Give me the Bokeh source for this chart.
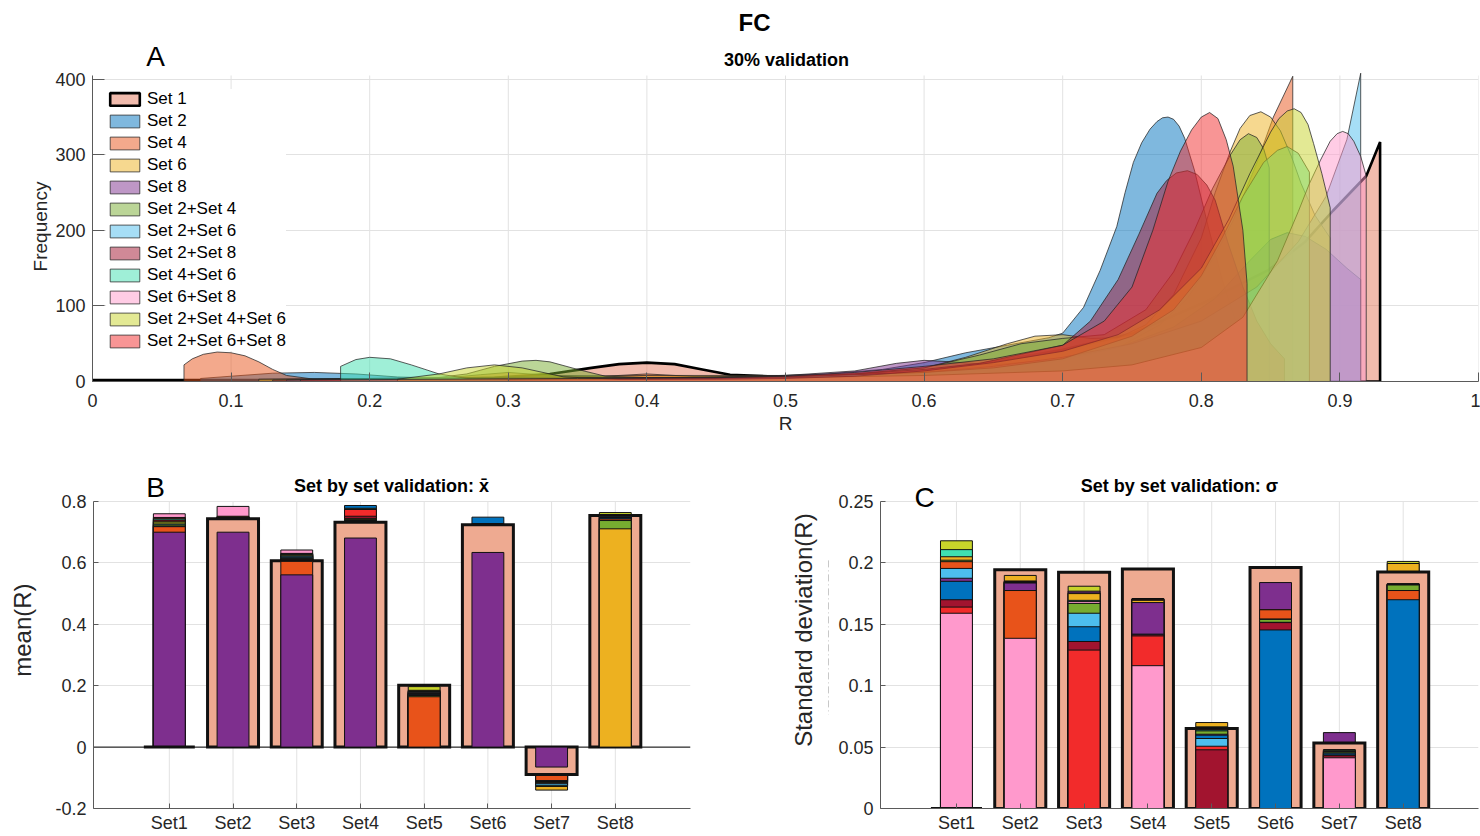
import math
from bokeh.plotting import figure
from bokeh.models import FixedTicker, Label, Span, ColumnDataSource
from bokeh.layouts import column, row
from bokeh.embed import file_html
from bokeh.resources import INLINE

FONT = "Liberation Sans"
TXT = "#262626"
AXC = "#5A5A5A"
GRID = "#E2E2E2"

# ---------------- Panel A: frequency of R per training combination ----------------
SERIES = ["Set 1", "Set 2", "Set 4", "Set 6", "Set 8", "Set 2+Set 4", "Set 2+Set 6",
          "Set 2+Set 8", "Set 4+Set 6", "Set 6+Set 8", "Set 2+Set 4+Set 6", "Set 2+Set 6+Set 8"]

r_set1 = [0.00, 0.06, 0.12, 0.18, 0.24, 0.29, 0.33, 0.36, 0.38, 0.40, 0.42, 0.44, 0.46, 0.50,
          0.55, 0.60, 0.65, 0.70, 0.751, 0.80, 0.848, 0.875, 0.895, 0.919, 0.929]
f_set1 = [2, 2, 2, 3, 3, 5, 10, 18, 23, 25, 23, 16, 9, 6,
          8, 13, 26, 42, 64, 103, 147, 185, 226, 272, 317]

r_set2 = [0.078, 0.10, 0.13, 0.16, 0.19, 0.22, 0.26, 0.30, 0.36, 0.42, 0.48, 0.53, 0.57, 0.60,
          0.63, 0.66, 0.69, 0.70, 0.715, 0.727, 0.739, 0.745, 0.751, 0.757, 0.763, 0.768, 0.772,
          0.776, 0.780, 0.784, 0.788, 0.795, 0.805, 0.815, 0.825, 0.835, 0.849]
f_set2 = [4, 7, 11, 12, 10, 6, 4, 4, 5, 6, 7, 10, 16, 25,
          38, 48, 58, 64, 98, 147, 205, 250, 290, 316, 334, 344, 349,
          350, 347, 338, 322, 280, 205, 135, 80, 45, 22]

r_set4 = [0.066, 0.072, 0.08, 0.09, 0.10, 0.11, 0.12, 0.13, 0.14, 0.16, 0.20, 0.25, 0.28, 0.30,
          0.33, 0.37, 0.40, 0.44, 0.50, 0.55, 0.60, 0.65, 0.70, 0.74, 0.77, 0.79, 0.809, 0.823,
          0.84, 0.852, 0.866]
f_set4 = [22, 30, 36, 39, 38, 34, 26, 16, 8, 3, 3, 4, 9, 12,
          8, 7, 10, 6, 5, 7, 10, 16, 28, 45, 75, 110, 164, 213,
          289, 350, 404]

r_set6 = [0.12, 0.20, 0.30, 0.40, 0.50, 0.55, 0.60, 0.63, 0.66, 0.68, 0.70, 0.72, 0.74, 0.76,
          0.78, 0.80, 0.81, 0.821, 0.828, 0.835, 0.843, 0.850, 0.857, 0.865, 0.872, 0.882, 0.893]
f_set6 = [3, 4, 6, 8, 8, 10, 18, 32, 50, 60, 62, 57, 58, 75,
          115, 190, 250, 305, 335, 352, 357, 350, 332, 298, 262, 220, 190]

r_set8 = [0.25, 0.35, 0.45, 0.50, 0.55, 0.58, 0.60, 0.62, 0.65, 0.70, 0.74, 0.78, 0.81, 0.835,
          0.850, 0.862, 0.875, 0.89, 0.905, 0.915]
f_set8 = [2, 4, 6, 8, 14, 24, 28, 26, 22, 30, 45, 72, 110, 160,
          188, 197, 192, 175, 150, 135]

r_s2_s4 = [0.24, 0.27, 0.29, 0.31, 0.32, 0.33, 0.35, 0.37, 0.42, 0.50, 0.55, 0.60, 0.64, 0.67,
           0.70, 0.73, 0.76, 0.78, 0.795, 0.808, 0.821, 0.828, 0.834, 0.840, 0.845, 0.849]
f_s2_s4 = [3, 10, 20, 27, 28, 26, 16, 7, 4, 6, 10, 18, 35, 50,
           57, 62, 95, 145, 200, 255, 300, 320, 328, 323, 308, 283]

r_s2_s6 = [0.14, 0.20, 0.30, 0.40, 0.50, 0.60, 0.65, 0.70, 0.75, 0.80, 0.84, 0.87, 0.89, 0.905, 0.915]
f_s2_s6 = [2, 4, 5, 5, 6, 12, 20, 32, 50, 80, 125, 185, 245, 320, 408]

r_s2_s8 = [0.13, 0.20, 0.30, 0.40, 0.50, 0.55, 0.60, 0.64, 0.67, 0.70, 0.72, 0.74, 0.755, 0.768,
           0.775, 0.782, 0.79, 0.797, 0.804, 0.81, 0.819, 0.83, 0.84, 0.85, 0.86]
f_s2_s8 = [2, 3, 4, 5, 6, 10, 16, 24, 36, 48, 80, 135, 195, 249,
           266, 276, 279, 274, 260, 240, 185, 125, 80, 50, 30]

r_s4_s6 = [0.179, 0.19, 0.20, 0.215, 0.23, 0.25, 0.27, 0.30, 0.40, 0.50, 0.60, 0.65, 0.70, 0.75,
           0.78, 0.80, 0.815, 0.83, 0.845, 0.855, 0.862, 0.870, 0.878]
f_s4_s6 = [20, 29, 32, 30, 22, 10, 4, 3, 4, 6, 12, 18, 30, 60,
           95, 140, 190, 245, 290, 306, 311, 302, 277]

r_s6_s8 = [0.30, 0.40, 0.50, 0.60, 0.70, 0.75, 0.80, 0.83, 0.855, 0.87, 0.878, 0.886, 0.893,
           0.898, 0.902, 0.906, 0.91, 0.915, 0.919]
f_s6_s8 = [2, 3, 5, 8, 14, 22, 45, 85, 160, 225, 262, 293, 318, 328, 331, 328, 318, 298, 272]

r_s2_s4_s6 = [0.22, 0.25, 0.27, 0.29, 0.31, 0.34, 0.38, 0.45, 0.50, 0.55, 0.60, 0.65, 0.70, 0.74,
              0.77, 0.80, 0.82, 0.835, 0.85, 0.856, 0.862, 0.867, 0.872, 0.877, 0.881, 0.887, 0.893]
f_s2_s4_s6 = [3, 10, 18, 22, 18, 6, 3, 3, 4, 7, 14, 25, 40, 62,
              95, 150, 215, 275, 330, 348, 358, 361, 356, 340, 315, 275, 230]

r_s2_s6_s8 = [0.15, 0.25, 0.35, 0.45, 0.50, 0.55, 0.60, 0.65, 0.70, 0.73, 0.75, 0.765, 0.776,
              0.785, 0.793, 0.80, 0.806, 0.812, 0.818, 0.823, 0.83, 0.833]
f_s2_s6_s8 = [2, 3, 4, 5, 7, 12, 20, 30, 48, 80, 125, 200, 265, 305, 333, 350, 356, 348, 320,
              285, 200, 130]

DENSITY = {
    "Set 1": (r_set1, f_set1), "Set 2": (r_set2, f_set2), "Set 4": (r_set4, f_set4),
    "Set 6": (r_set6, f_set6), "Set 8": (r_set8, f_set8), "Set 2+Set 4": (r_s2_s4, f_s2_s4),
    "Set 2+Set 6": (r_s2_s6, f_s2_s6), "Set 2+Set 8": (r_s2_s8, f_s2_s8),
    "Set 4+Set 6": (r_s4_s6, f_s4_s6), "Set 6+Set 8": (r_s6_s8, f_s6_s8),
    "Set 2+Set 4+Set 6": (r_s2_s4_s6, f_s2_s4_s6), "Set 2+Set 6+Set 8": (r_s2_s6_s8, f_s2_s6_s8),
}

# ---------------- Panels B and C: set-by-set validation ----------------
CATEGORIES = ["Set1", "Set2", "Set3", "Set4", "Set5", "Set6", "Set7", "Set8"]

mean_set1 = [0.0, 0.7435, 0.607, 0.7325, 0.2015, 0.724, -0.089, 0.754]
mean_set2 = [0.720, 0.746, 0.622, 0.787, 0.171, 0.749, -0.112, 0.746]
mean_set4 = [0.718, 0.745, 0.605, 0.736, 0.164, 0.7255, -0.109, 0.743]
mean_set6 = [0.736, 0.752, 0.625, 0.745, 0.185, 0.726, -0.140, 0.711]
mean_set8 = [0.700, 0.700, 0.561, 0.681, 0.173, 0.634, -0.065, 0.748]
mean_s2_s4 = [0.724, 0.747, 0.614, 0.776, 0.168, 0.7262, -0.116, 0.738]
mean_s2_s6 = [0.727, 0.748, 0.618, 0.778, 0.177, 0.7265, -0.124, 0.750]
mean_s2_s8 = [0.740, 0.747, 0.612, 0.752, 0.175, 0.7268, -0.114, 0.751]
mean_s4_s6 = [0.744, 0.748, 0.627, 0.738, 0.181, 0.727, -0.126, 0.752]
mean_s6_s8 = [0.760, 0.784, 0.642, 0.740, 0.183, 0.7272, -0.127, 0.753]
mean_s2_s4_s6 = [0.733, 0.749, 0.629, 0.742, 0.197, 0.7245, -0.128, 0.764]
mean_s2_s6_s8 = [0.748, 0.749, 0.631, 0.774, 0.179, 0.725, -0.118, 0.7535]

std_set1 = [0.0, 0.1944, 0.1923, 0.195, 0.0651, 0.1963, 0.0534, 0.1925]
std_set2 = [0.185, 0.1840, 0.148, 0.1420, 0.0597, 0.1454, 0.0445, 0.170]
std_set4 = [0.201, 0.1775, 0.1755, 0.1700, 0.0645, 0.1618, 0.0435, 0.1775]
std_set6 = [0.205, 0.1898, 0.175, 0.1695, 0.0700, 0.1515, 0.0480, 0.1995]
std_set8 = [0.1875, 0.1836, 0.177, 0.1677, 0.0605, 0.1840, 0.0618, 0.1822]
std_s2_s4 = [0.2022, 0.1842, 0.167, 0.1702, 0.0632, 0.1540, 0.0460, 0.1820]
std_s2_s6 = [0.1955, 0.1844, 0.159, 0.1704, 0.0570, 0.1516, 0.0452, 0.1824]
std_s2_s8 = [0.170, 0.1846, 0.136, 0.1415, 0.0478, 0.1514, 0.0430, 0.1826]
std_s4_s6 = [0.2108, 0.1848, 0.1695, 0.1706, 0.0640, 0.1541, 0.0470, 0.1828]
std_s6_s8 = [0.159, 0.1386, 0.1685, 0.1163, 0.0660, 0.1542, 0.0413, 0.1830]
std_s2_s4_s6 = [0.218, 0.1852, 0.181, 0.1710, 0.0665, 0.1620, 0.0475, 0.2012]
std_s2_s6_s8 = [0.164, 0.1850, 0.129, 0.1405, 0.0507, 0.1619, 0.0465, 0.1829]

MEAN_MODELS = [("Set 2", mean_set2), ("Set 4", mean_set4), ("Set 6", mean_set6),
               ("Set 8", mean_set8), ("Set 2+Set 4", mean_s2_s4), ("Set 2+Set 6", mean_s2_s6),
               ("Set 2+Set 8", mean_s2_s8), ("Set 4+Set 6", mean_s4_s6),
               ("Set 6+Set 8", mean_s6_s8), ("Set 2+Set 4+Set 6", mean_s2_s4_s6),
               ("Set 2+Set 6+Set 8", mean_s2_s6_s8)]
STD_MODELS = [("Set 2", std_set2), ("Set 4", std_set4), ("Set 6", std_set6),
              ("Set 8", std_set8), ("Set 2+Set 4", std_s2_s4), ("Set 2+Set 6", std_s2_s6),
              ("Set 2+Set 8", std_s2_s8), ("Set 4+Set 6", std_s4_s6),
              ("Set 6+Set 8", std_s6_s8), ("Set 2+Set 4+Set 6", std_s2_s4_s6),
              ("Set 2+Set 6+Set 8", std_s2_s6_s8)]

# ---------------- colours ----------------
BASE = {
    "Set 1": "#E3775B", "Set 2": "#0072BD", "Set 4": "#E8531A", "Set 6": "#EDB120",
    "Set 8": "#7E2F8E", "Set 2+Set 4": "#77AC30", "Set 2+Set 6": "#4DBEEE",
    "Set 2+Set 8": "#A2142F", "Set 4+Set 6": "#3FE0B0", "Set 6+Set 8": "#FF99CC",
    "Set 2+Set 4+Set 6": "#C8D42A", "Set 2+Set 6+Set 8": "#F22B2B",
}
SALMON = "#EEAA91"


def style_axes(p, tick_size):
    p.outline_line_color = None
    p.background_fill_color = "white"
    p.border_fill_color = "white"
    for ax in (p.xaxis[0], p.yaxis[0]):
        ax.axis_line_color = AXC
        ax.major_tick_line_color = AXC
        ax.major_tick_out = 0
        ax.major_tick_in = 6
        ax.minor_tick_line_color = None
        ax.major_label_text_font = FONT
        ax.major_label_text_font_size = tick_size
        ax.major_label_text_color = TXT
    p.yaxis.major_label_standoff = 7
    p.xgrid.grid_line_color = None
    p.ygrid.grid_line_color = GRID


def text_canvas(w, h):
    """A blank drawing area, y growing downward, that only carries text."""
    c = figure(width=w, height=h, x_range=(0, w), y_range=(h, 0),
               output_backend="svg", toolbar_location=None,
               x_axis_type=None, y_axis_type=None,
               min_border_left=0, min_border_right=0, min_border_top=0, min_border_bottom=0)
    c.outline_line_color = None
    c.background_fill_color = "white"
    c.border_fill_color = "white"
    return c


def add_text(p, x, y, text, size, bold=False, angle=0.0, color="black"):
    p.add_layout(Label(x=x, y=y, text=text, text_font=FONT, text_font_size=size,
                       text_font_style="bold" if bold else "normal", text_color=color,
                       text_align="center", text_baseline="middle", angle=angle))


def vertical_grid(p, ticks, lo, hi):
    p.segment(x0=ticks, y0=[lo] * len(ticks), x1=ticks, y1=[hi] * len(ticks),
              line_color=GRID, line_width=1, level="underlay")


# ================= Panel A =================
TOP_H = 440
LAB_A_W = 52
A_L, A_R, A_T, A_B = 92, 1478, 75, 381
A_YMAX = 405
# the frame reaches the page top so that the headings sit inside it
A_YTOP = A_YMAX * A_B / (A_B - A_T)

lab_a = text_canvas(LAB_A_W, TOP_H)
add_text(lab_a, 40, 261, "Frequency", "19px", angle=math.pi / 2, color=TXT)

p_a = figure(width=1480 - LAB_A_W, height=TOP_H, x_range=(0, 1), y_range=(0, A_YTOP),
             output_backend="svg", toolbar_location=None,
             min_border_left=A_L - LAB_A_W, min_border_right=1480 - A_R,
             min_border_top=0, min_border_bottom=TOP_H - A_B)
style_axes(p_a, "18px")
xt = [0, 0.1, 0.2, 0.3, 0.4, 0.5, 0.6, 0.7, 0.8, 0.9, 1]
xt_lbl = ["0", "0.1", "0.2", "0.3", "0.4", "0.5", "0.6", "0.7", "0.8", "0.9", "1"]
yt = [0, 100, 200, 300, 400]
p_a.xaxis.ticker = FixedTicker(ticks=xt)
p_a.xaxis.major_label_overrides = dict(zip(xt, xt_lbl))
p_a.yaxis.ticker = FixedTicker(ticks=yt)
p_a.yaxis.bounds = (0, A_YMAX)
p_a.ygrid.ticker = FixedTicker(ticks=yt)
vertical_grid(p_a, xt, 0, A_YMAX)
p_a.xaxis.major_tick_in = 9
p_a.yaxis.major_tick_in = 12
p_a.xaxis.major_label_standoff = 12
p_a.xaxis.axis_label = "R"
p_a.xaxis.axis_label_text_font = FONT
p_a.xaxis.axis_label_text_font_size = "19px"
p_a.xaxis.axis_label_text_font_style = "normal"
p_a.xaxis.axis_label_text_color = TXT
p_a.xaxis.axis_label_standoff = 3

for name in SERIES:
    r, f = DENSITY[name]
    xs = [r[0]] + list(r) + [r[-1]]
    ys = [0] + list(f) + [0]
    if name == "Set 1":
        p_a.patch(xs, ys, fill_color=BASE[name], fill_alpha=0.5, line_color="black",
                  line_width=2.6, legend_label=name)
    else:
        p_a.patch(xs, ys, fill_color=BASE[name], fill_alpha=0.5, line_color="#262626",
                  line_alpha=0.75, line_width=1, legend_label=name)

lg = p_a.legend[0]
lg.location = (14, 30)
lg.margin = 0
lg.padding = 0
lg.spacing = 2
lg.glyph_width = 37
lg.glyph_height = 16
lg.label_height = 16
lg.label_standoff = 4
lg.label_text_font = FONT
lg.label_text_font_size = "17px"
lg.label_text_color = "black"
lg.border_line_color = None
lg.background_fill_color = "white"
lg.background_fill_alpha = 1.0


def a_xy(px, py):
    return (px - A_L) / (A_R - A_L), (A_B - py) * A_YMAX / (A_B - A_T)


add_text(p_a, *a_xy(754, 22), "FC", "24px", bold=True)
add_text(p_a, *a_xy(786, 59), "30% validation", "18px", bold=True)
add_text(p_a, *a_xy(155, 56), "A", "28px")


# ================= Panels B and C =================
MAIN_W, INNER_W = 0.8, 0.5
XR = (-0.19, 9.18)
CAT_POS = list(range(1, len(CATEGORIES) + 1))
ROW_TOP, P_T, P_B, ROW_H = 440, 501, 808, 396


def bar_source(main, models):
    xs, ys, fills, lws = [], [], [], []
    for i, pos in enumerate(CAT_POS):
        bars = [(main[i], MAIN_W, SALMON, 3.0)]
        bars += [(vals[i], INNER_W, BASE[name], 1.0) for name, vals in models]
        # tallest first so that every shorter bar stays visible in front
        bars.sort(key=lambda b: -abs(b[0]))
        for v, w, c, lw in bars:
            xs.append([pos - w / 2, pos + w / 2, pos + w / 2, pos - w / 2])
            ys.append([0, 0, v, v])
            fills.append(c)
            lws.append(lw)
    return ColumnDataSource(dict(xs=xs, ys=ys, fill=fills, lw=lws))


def bar_panel(width, left, right, ylo, yhi, yticks, ylabels, main, models, zero_line):
    # the frame reaches up to the row top so that the panel headings sit inside it
    ytop = yhi + (P_T - ROW_TOP) * (yhi - ylo) / (P_B - P_T)
    p = figure(width=width, height=ROW_H, x_range=XR, y_range=(ylo, ytop),
               output_backend="svg", toolbar_location=None,
               min_border_left=left, min_border_right=right,
               min_border_top=0, min_border_bottom=ROW_TOP + ROW_H - P_B)
    style_axes(p, "18px")
    p.xaxis.ticker = FixedTicker(ticks=CAT_POS)
    p.xaxis.major_label_overrides = dict(zip(CAT_POS, CATEGORIES))
    p.yaxis.ticker = FixedTicker(ticks=yticks)
    p.yaxis.major_label_overrides = dict(zip(yticks, ylabels))
    p.yaxis.bounds = (ylo, yhi)
    p.ygrid.ticker = FixedTicker(ticks=yticks)
    p.xaxis.major_tick_in = 5
    p.yaxis.major_tick_in = 5
    p.xaxis.major_label_standoff = 4
    vertical_grid(p, CAT_POS, ylo, yhi)
    if zero_line:
        p.add_layout(Span(location=0, dimension="width", line_color="black",
                          line_width=1, level="underlay"))
    p.patches("xs", "ys", source=bar_source(main, models), fill_color="fill",
              line_color="#111111", line_width="lw", line_join="miter")
    return p


LAB_B_W, LAB_C_W = 45, 90
B_L, B_R = 93, 690
C_L, C_R = 880, 1478

lab_b = text_canvas(LAB_B_W, ROW_H)
add_text(lab_b, 22, 644 - ROW_TOP, "mean(R)", "24px", angle=math.pi / 2, color=TXT)

p_b = bar_panel(740 - LAB_B_W, B_L - LAB_B_W, 740 - B_R, -0.2, 0.8,
                [-0.2, 0, 0.2, 0.4, 0.6, 0.8], ["-0.2", "0", "0.2", "0.4", "0.6", "0.8"],
                mean_set1, MEAN_MODELS, True)

lab_c = text_canvas(LAB_C_W, ROW_H)
add_text(lab_c, 803 - 740, 644 - ROW_TOP, "Standard deviation(R)", "24px",
         angle=math.pi / 2, color=TXT)
# faint dash-dot rule beside the label
lab_c.segment(x0=[88], y0=[569 - ROW_TOP], x1=[88], y1=[735 - ROW_TOP],
              line_color="#B0B0B0", line_alpha=0.7, line_width=1, line_dash="7 3 1 3")

p_c = bar_panel(740 - LAB_C_W, C_L - 740 - LAB_C_W, 1480 - C_R, 0.0, 0.25,
                [0, 0.05, 0.1, 0.15, 0.2, 0.25], ["0", "0.05", "0.1", "0.15", "0.2", "0.25"],
                std_set1, STD_MODELS, False)


def panel_xy(p, left, right, px, py):
    ylo, yhi = p.y_range.start, p.y_range.end
    x = XR[0] + (px - left) * (XR[1] - XR[0]) / (right - left)
    y = ylo + (P_B - py) * (yhi - ylo) / (P_B - ROW_TOP)
    return x, y


add_text(p_b, *panel_xy(p_b, B_L, B_R, 391, 485), "Set by set validation: x\u0304", "18px", bold=True)
add_text(p_b, *panel_xy(p_b, B_L, B_R, 155, 487), "B", "28px")
add_text(p_c, *panel_xy(p_c, C_L, C_R, 1179, 485), "Set by set validation: \u03c3", "18px", bold=True)
add_text(p_c, *panel_xy(p_c, C_L, C_R, 924, 497), "C", "28px")

page = column(row(lab_a, p_a), row(lab_b, p_b, lab_c, p_c))
open("out.html", "w").write(file_html(page, INLINE))
